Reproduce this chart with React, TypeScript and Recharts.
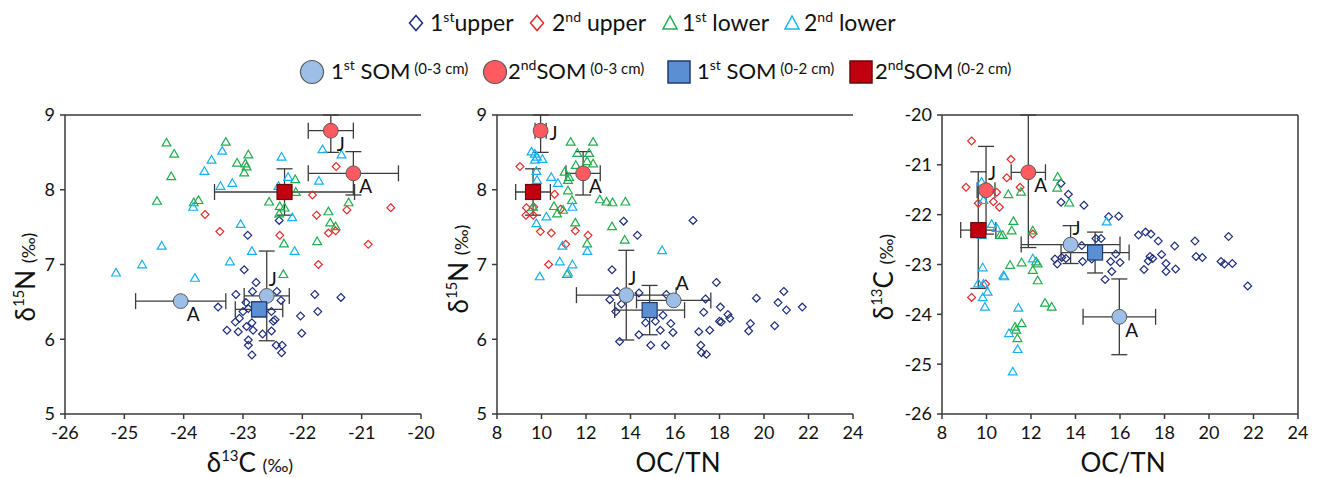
import React from 'react';
import { ScatterChart, Scatter, XAxis, YAxis, ErrorBar, ReferenceLine } from 'recharts';

type Pt = [number, number];
type Som = { lab: string; x: number; y: number; ex: number; ey: number };

// ---------- panel 1: d13C (x) vs d15N (y)
const p1Upper1: Pt[] = [
  [-22.39, 7.59], [-22.92, 7.39], [-22.98, 6.93], [-22.78, 6.76], [-22.84, 6.64], [-22.43, 6.64],
  [-22.36, 6.52], [-21.79, 6.6], [-21.35, 6.56], [-23.12, 6.6], [-23.42, 6.43], [-22.95, 6.49],
  [-22.91, 6.41], [-23.0, 6.37], [-22.52, 6.37], [-22.49, 6.24], [-22.46, 6.26], [-23.06, 6.28],
  [-23.13, 6.23], [-23.27, 6.12], [-23.08, 6.1], [-22.94, 6.17], [-22.85, 6.22], [-22.83, 6.12],
  [-22.91, 5.99], [-22.67, 6.07], [-22.52, 6.11], [-22.03, 6.31], [-21.74, 6.37], [-22.01, 6.08],
  [-22.44, 5.92], [-22.34, 5.92], [-22.91, 5.92], [-22.85, 5.79], [-22.35, 5.82],
];
const p1Upper2: Pt[] = [
  [-21.43, 8.31], [-21.83, 7.93], [-21.76, 7.66], [-21.25, 7.73], [-20.51, 7.76], [-23.64, 7.67],
  [-23.39, 7.44], [-22.38, 7.39], [-21.56, 7.42], [-21.44, 7.45], [-20.89, 7.27], [-21.73, 7.0],
];
const p1Lower1: Pt[] = [
  [-24.29, 8.63], [-23.29, 8.64], [-24.16, 8.48], [-22.91, 8.47], [-23.1, 8.36], [-22.96, 8.35],
  [-22.94, 8.31], [-22.98, 8.23], [-24.21, 8.18], [-22.12, 8.14], [-22.11, 7.97], [-24.45, 7.85],
  [-23.75, 7.86], [-23.83, 7.83], [-22.56, 7.84], [-22.38, 7.78], [-22.3, 7.76], [-22.39, 7.68],
  [-21.22, 7.83], [-21.56, 7.71], [-21.53, 7.56], [-21.44, 7.51], [-22.31, 7.28], [-21.75, 7.31],
  [-22.32, 6.87],
];
const p1Lower2: Pt[] = [
  [-25.14, 6.89], [-24.7, 7.0], [-24.37, 7.25], [-23.81, 6.82], [-23.22, 7.04], [-23.04, 7.54],
  [-22.85, 7.18], [-22.13, 7.18], [-22.17, 7.63], [-23.65, 8.25], [-23.53, 8.4], [-23.35, 8.52],
  [-23.18, 8.09], [-23.38, 8.05], [-23.84, 7.77], [-22.35, 8.44], [-22.24, 8.17], [-22.4, 8.05],
  [-21.72, 8.12], [-21.66, 8.54], [-21.34, 8.47],
];
const p1Som1: Som[] = [
  { lab: 'J', x: -22.6, y: 6.58, ex: 0.38, ey: 0.6 },
  { lab: 'A', x: -24.05, y: 6.51, ex: 0.76, ey: 0 },
];
const p1Som2: Som[] = [
  { lab: 'J', x: -21.52, y: 8.79, ex: 0.38, ey: 0.29 },
  { lab: 'A', x: -21.14, y: 8.22, ex: 0.76, ey: 0.29 },
];
const p1Som1Deep: Som[] = [{ lab: '', x: -22.73, y: 6.4, ex: 0.4, ey: 0.1 }];
const p1Som2Deep: Som[] = [{ lab: '', x: -22.3, y: 7.97, ex: 1.18, ey: 0.31 }];

// ---------- panel 2: OC/TN (x) vs d15N (y)
const p2Upper1: Pt[] = [
  [16.81, 7.59], [13.69, 7.58], [14.31, 7.39], [13.17, 6.93], [17.86, 6.76], [13.4, 6.64],
  [14.38, 6.62], [15.61, 6.6], [17.37, 6.54], [19.66, 6.55], [20.89, 6.64], [20.63, 6.49],
  [21.01, 6.39], [21.72, 6.43], [13.07, 6.53], [13.59, 6.47], [13.34, 6.37], [18.04, 6.43],
  [17.29, 6.36], [18.38, 6.33], [18.46, 6.28], [18.0, 6.24], [18.08, 6.23], [19.39, 6.21],
  [20.48, 6.18], [19.31, 6.11], [14.68, 6.22], [15.12, 6.24], [15.46, 6.32], [15.81, 6.21],
  [15.91, 6.09], [15.34, 6.12], [14.38, 6.06], [17.07, 6.1], [17.56, 6.12], [13.51, 5.97],
  [14.91, 5.92], [15.57, 5.92], [17.16, 5.92], [17.19, 5.82], [17.41, 5.8],
];
const p2Upper2: Pt[] = [
  [9.03, 8.31], [9.32, 7.76], [9.3, 7.66], [9.63, 7.66], [9.65, 7.77], [10.59, 7.94],
  [10.86, 7.74], [9.95, 7.44], [10.44, 7.42], [11.52, 7.45], [12.09, 7.39], [11.09, 7.27],
  [10.32, 7.0],
];
const p2Lower1: Pt[] = [
  [11.31, 8.64], [12.32, 8.64], [11.61, 8.49], [12.14, 8.49], [12.05, 8.38], [12.32, 8.35],
  [11.54, 8.33], [11.04, 8.24], [11.24, 8.17], [11.19, 8.13], [11.19, 7.99], [11.37, 7.86],
  [12.62, 7.87], [12.92, 7.84], [13.19, 7.83], [13.77, 7.84], [9.62, 7.77], [10.56, 7.78],
  [10.97, 7.73], [10.7, 7.68], [11.52, 7.56], [13.17, 7.51], [12.05, 7.28], [13.74, 7.33],
  [11.15, 6.87],
];
const p2Lower2: Pt[] = [
  [9.55, 8.51], [9.7, 8.48], [9.8, 8.44], [10.04, 8.41], [9.7, 8.4], [9.77, 8.25],
  [9.8, 8.13], [10.44, 8.17], [10.74, 8.09], [11.39, 7.77], [10.22, 7.64], [9.77, 7.55],
  [10.94, 7.25], [12.06, 7.18], [15.42, 7.19], [10.82, 7.04], [11.39, 7.0], [11.19, 6.89],
  [9.92, 6.84],
];
const p2Som1: Som[] = [
  { lab: 'J', x: 13.81, y: 6.59, ex: 2.24, ey: 0.6 },
  { lab: 'A', x: 15.94, y: 6.52, ex: 1.67, ey: 0 },
];
const p2Som2: Som[] = [
  { lab: 'J', x: 9.96, y: 8.79, ex: 0.25, ey: 0.29 },
  { lab: 'A', x: 11.87, y: 8.22, ex: 0.77, ey: 0.29 },
];
const p2Som1Deep: Som[] = [{ lab: '', x: 14.86, y: 6.39, ex: 1.57, ey: 0.33 }];
const p2Som2Deep: Som[] = [{ lab: '', x: 9.62, y: 7.97, ex: 0.78, ey: 0.31 }];

// ---------- panel 3: OC/TN (x) vs d13C (y)
const p3Upper1: Pt[] = [
  [13.35, -21.37], [13.68, -21.59], [13.35, -21.75], [14.38, -21.81], [15.49, -22.04], [15.94, -22.03],
  [16.83, -22.41], [17.15, -22.35], [17.39, -22.39], [17.72, -22.53], [18.46, -22.63], [19.37, -22.53],
  [20.88, -22.44], [14.92, -22.48], [15.15, -22.48], [14.28, -22.62], [13.08, -22.89], [13.18, -22.99],
  [13.38, -22.86], [13.57, -22.88], [14.32, -22.94], [14.73, -22.89], [15.81, -22.79], [15.58, -22.94],
  [16.0, -22.96], [15.63, -23.14], [15.33, -23.3], [17.35, -22.84], [17.47, -22.88], [17.27, -22.93],
  [17.87, -22.8], [17.08, -23.1], [18.07, -22.98], [18.07, -23.14], [18.5, -23.09], [19.42, -22.84],
  [19.7, -22.86], [20.54, -22.94], [20.69, -22.99], [21.05, -22.98], [21.74, -23.43],
];
const p3Upper2: Pt[] = [
  [9.33, -20.52], [11.1, -20.89], [10.91, -21.26], [9.08, -21.45], [9.63, -21.77], [10.31, -21.74],
  [10.58, -21.85], [10.46, -21.55], [11.51, -21.45], [12.08, -22.39], [9.96, -23.39], [9.33, -23.66],
];
const p3Lower1: Pt[] = [
  [13.2, -21.24], [13.18, -21.46], [13.72, -21.76], [10.98, -21.59], [11.55, -21.54], [11.21, -22.13],
  [11.13, -22.32], [10.61, -22.41], [10.73, -22.41], [12.08, -22.32], [11.06, -23.01], [11.58, -22.96],
  [12.08, -23.11], [12.3, -22.98], [12.23, -22.94], [12.3, -23.32], [12.63, -23.77], [12.93, -23.85],
  [11.58, -24.18], [11.28, -24.25], [11.33, -24.31], [11.39, -24.48],
];
const p3Lower2: Pt[] = [
  [9.78, -21.34], [9.86, -21.71], [10.23, -22.19], [10.46, -22.27], [9.78, -22.41], [15.4, -22.14],
  [12.08, -22.88], [10.76, -23.22], [10.8, -23.24], [9.83, -23.06], [9.63, -23.38], [9.86, -23.39],
  [10.05, -23.55], [9.83, -23.66], [9.93, -23.85], [11.43, -23.87], [11.01, -24.38], [11.4, -24.7],
  [11.18, -25.15],
];
const p3Som1: Som[] = [
  { lab: 'J', x: 13.78, y: -22.6, ex: 2.22, ey: 0.38 },
  { lab: 'A', x: 15.97, y: -24.05, ex: 1.63, ey: 0.76 },
];
const p3Som2: Som[] = [
  { lab: 'J', x: 9.98, y: -21.51, ex: 0.4, ey: 0.88 },
  { lab: 'A', x: 11.88, y: -21.15, ex: 0.77, ey: 1.51 },
];
const p3Som1Deep: Som[] = [{ lab: '', x: 14.88, y: -22.76, ex: 1.53, ey: 0.41 }];
const p3Som2Deep: Som[] = [{ lab: '', x: 9.63, y: -22.31, ex: 0.79, ey: 1.17 }];

const d13cTicks = [-26, -25, -24, -23, -22, -21, -20];
const d15nTicks = [5, 6, 7, 8, 9];
const ocTnTicks = [8, 10, 12, 14, 16, 18, 20, 22, 24];

// where the J / A letters sit next to each marker
const labelOffset: Record<string, [number, number]> = { br: [6, 20], ar: [2, -10], r: [9, 9] };

const C_UP1 = '#1c2c7c';
const C_UP2 = '#e42a2a';
const C_LO1 = '#1fae4e';
const C_LO2 = '#17b0f0';
const AXIS = '#3a3a3a';
const FONT = 'Lato, "Open Sans", sans-serif';

const toPts = (a: Pt[]) => a.map(([x, y]) => ({ x, y }));

// error bars stop at the frame, like the clipped ones in the original
const clipSom = (a: Som[], xd: [number, number], yd: [number, number]) =>
  a.map((s) => ({
    ...s,
    exv: [Math.min(s.ex, s.x - xd[0]), Math.min(s.ex, xd[1] - s.x)],
    eyv: [Math.min(s.ey, s.y - yd[0]), Math.min(s.ey, yd[1] - s.y)],
  }));

const diamondShape = (color: string) => (p: any) => {
  const { cx, cy } = p;
  const r = 3.9;
  return (
    <path d={`M${cx},${cy - r}L${cx + r},${cy}L${cx},${cy + r}L${cx - r},${cy}Z`} fill="none" stroke={color} strokeWidth={1.2} />
  );
};

const triangleShape = (color: string) => (p: any) => {
  const { cx, cy } = p;
  return (
    <path d={`M${cx},${cy - 4.3}L${cx + 4.4},${cy + 3.3}L${cx - 4.4},${cy + 3.3}Z`} fill="none" stroke={color} strokeWidth={1.2} />
  );
};

const somShape = (kind: 'circle' | 'square', fill: string, stroke: string, pos: Record<string, string>) => (p: any) => {
  const { cx, cy, payload } = p;
  const lab = payload?.lab;
  const off = lab ? labelOffset[pos[lab] || 'br'] : null;
  return (
    <g>
      {kind === 'circle' ? (
        <circle cx={cx} cy={cy} r={7.4} fill={fill} stroke={stroke} strokeWidth={1} />
      ) : (
        <rect x={cx - 7.5} y={cy - 7.5} width={15} height={15} fill={fill} stroke={stroke} strokeWidth={1.2} />
      )}
      {off && (
        <text x={cx + off[0]} y={cy + off[1]} fontSize={19} fill="#111" fontFamily={FONT}>
          {lab}
        </text>
      )}
    </g>
  );
};

type PanelProps = {
  left: number;
  xDomain: [number, number];
  xTicks: number[];
  yDomain: [number, number];
  yTicks: number[];
  up1: Pt[];
  up2: Pt[];
  lo1: Pt[];
  lo2: Pt[];
  som1: Som[];
  som2: Som[];
  som1Deep: Som[];
  som2Deep: Som[];
  pos1: Record<string, string>;
  pos2: Record<string, string>;
  boxed?: boolean;
};

const errBars = () => [
  <ErrorBar key="ex" dataKey="exv" direction="x" width={8} stroke="#3c3c3c" strokeWidth={1.3} isAnimationActive={false} />,
  <ErrorBar key="ey" dataKey="eyv" direction="y" width={8} stroke="#3c3c3c" strokeWidth={1.3} isAnimationActive={false} />,
];

function Panel(props: PanelProps) {
  const { left, xDomain, xTicks, yDomain, yTicks, boxed } = props;
  const tick = { fontSize: 18, fill: '#111', fontFamily: FONT };
  const clip = (a: Som[]) => clipSom(a, xDomain, yDomain);
  return (
    <div style={{ position: 'absolute', left, top: 0 }}>
      <ScatterChart width={440} height={478} margin={{ top: 115, right: 19, bottom: 34, left: 0 }}>
        <XAxis
          type="number"
          dataKey="x"
          domain={xDomain}
          ticks={xTicks}
          allowDataOverflow
          height={30}
          tick={tick}
          tickSize={5}
          tickMargin={7}
          axisLine={{ stroke: AXIS, strokeWidth: 1.5 }}
          tickLine={{ stroke: AXIS, strokeWidth: 1.5 }}
        />
        <YAxis
          type="number"
          dataKey="y"
          domain={yDomain}
          ticks={yTicks}
          allowDataOverflow
          width={65}
          tick={tick}
          tickSize={5}
          tickMargin={5}
          axisLine={{ stroke: AXIS, strokeWidth: 1.5 }}
          tickLine={{ stroke: AXIS, strokeWidth: 1.5 }}
        />
        <ReferenceLine y={yDomain[1]} stroke={AXIS} strokeWidth={1.5} />
        {boxed && <ReferenceLine x={xDomain[1]} stroke={AXIS} strokeWidth={1.5} />}
        <Scatter data={toPts(props.up1)} shape={diamondShape(C_UP1)} isAnimationActive={false} />
        <Scatter data={toPts(props.up2)} shape={diamondShape(C_UP2)} isAnimationActive={false} />
        <Scatter data={toPts(props.lo1)} shape={triangleShape(C_LO1)} isAnimationActive={false} />
        <Scatter data={toPts(props.lo2)} shape={triangleShape(C_LO2)} isAnimationActive={false} />
        <Scatter data={clip(props.som2)} shape={somShape('circle', '#ff5a60', '#5a5a5a', props.pos2)} isAnimationActive={false}>
          {errBars()}
        </Scatter>
        <Scatter data={clip(props.som2Deep)} shape={somShape('square', '#c0000f', '#6a0a0a', {})} isAnimationActive={false}>
          {errBars()}
        </Scatter>
        <Scatter data={clip(props.som1)} shape={somShape('circle', '#9dbee6', '#5a5a5a', props.pos1)} isAnimationActive={false}>
          {errBars()}
        </Scatter>
        <Scatter data={clip(props.som1Deep)} shape={somShape('square', '#5b8fd3', '#1f3a70', {})} isAnimationActive={false}>
          {errBars()}
        </Scatter>
      </ScatterChart>
    </div>
  );
}

const sup = (t: string, size: number, raise: number) => (
  <span style={{ fontSize: size, position: 'relative', top: -raise }}>{t}</span>
);

function XTitle({ cx, children }: { cx: number; children: React.ReactNode }) {
  return (
    <div style={{ position: 'absolute', left: cx, top: 451, transform: 'translateX(-50%)', fontSize: 26, lineHeight: '22px', whiteSpace: 'nowrap', color: '#111' }}>
      {children}
    </div>
  );
}

function YTitle({ cx, cy, children }: { cx: number; cy: number; children: React.ReactNode }) {
  return (
    <div style={{ position: 'absolute', left: cx, top: cy, transform: 'translate(-50%,-50%) rotate(-90deg)', fontSize: 26, lineHeight: '28px', whiteSpace: 'nowrap', color: '#111' }}>
      {children}
    </div>
  );
}

function Icon({ cx, cy, children }: { cx: number; cy: number; children: React.ReactNode }) {
  return (
    <svg style={{ position: 'absolute', left: cx - 15, top: cy - 15 }} width={30} height={30}>
      <g transform="translate(15,15)">{children}</g>
    </svg>
  );
}

function LegText({ x, base, size, children }: { x: number; base: number; size: number; children: React.ReactNode }) {
  return (
    <div style={{ position: 'absolute', left: x, top: base - 0.887 * size, fontSize: size, lineHeight: `${size}px`, whiteSpace: 'nowrap', color: '#111' }}>
      {children}
    </div>
  );
}

function Legend() {
  const dia = (c: string) => <path d="M0,-7.5L6.5,0L0,7.5L-6.5,0Z" fill="none" stroke={c} strokeWidth={1.5} />;
  const tri = (c: string) => <path d="M0,-7L7,6L-7,6Z" fill="none" stroke={c} strokeWidth={1.5} />;
  const cm = (t: string) => <span style={{ fontSize: 15, position: 'relative', top: -5 }}> {t}</span>;
  return (
    <>
      <Icon cx={416} cy={23}>{dia(C_UP1)}</Icon>
      <LegText x={430} base={31} size={23}>1{sup('st', 14, 9)}upper</LegText>
      <Icon cx={537} cy={23}>{dia(C_UP2)}</Icon>
      <LegText x={552} base={31} size={23}>2{sup('nd', 14, 9)} upper</LegText>
      <Icon cx={670} cy={23}>{tri(C_LO1)}</Icon>
      <LegText x={682} base={31} size={23}>1{sup('st', 14, 9)} lower</LegText>
      <Icon cx={792} cy={23}>{tri(C_LO2)}</Icon>
      <LegText x={804} base={31} size={23}>2{sup('nd', 14, 9)} lower</LegText>

      <Icon cx={312} cy={72}><circle r={11.5} fill="#9dbee6" stroke="#5a5a5a" strokeWidth={1.2} /></Icon>
      <LegText x={331} base={80} size={22}>1{sup('st', 14, 9)} SOM{cm('(0-3 cm)')}</LegText>
      <Icon cx={495} cy={72}><circle r={11.5} fill="#ff5a60" stroke="#5a5a5a" strokeWidth={1.2} /></Icon>
      <LegText x={508} base={80} size={22}>2{sup('nd', 14, 9)}SOM{cm('(0-3 cm)')}</LegText>
      <Icon cx={679} cy={72}><rect x={-11} y={-11} width={22} height={22} fill="#5b8fd3" stroke="#1f3a70" strokeWidth={1.5} /></Icon>
      <LegText x={697} base={80} size={22}>1{sup('st', 14, 9)} SOM{cm('(0-2 cm)')}</LegText>
      <Icon cx={861} cy={72}><rect x={-11} y={-11} width={22} height={22} fill="#c0000f" stroke="#6a0a0a" strokeWidth={1.5} /></Icon>
      <LegText x={875} base={80} size={22}>2{sup('nd', 14, 9)}SOM{cm('(0-2 cm)')}</LegText>
    </>
  );
}

export default function App() {
  return (
    <div style={{ position: 'absolute', left: 0, top: 0, width: 1320, height: 478, background: '#fff', fontFamily: FONT, overflow: 'hidden' }}>
      <Legend />
      <Panel
        left={0}
        xDomain={[-26, -20]}
        xTicks={d13cTicks}
        yDomain={[5, 9]}
        yTicks={d15nTicks}
        up1={p1Upper1}
        up2={p1Upper2}
        lo1={p1Lower1}
        lo2={p1Lower2}
        som1={p1Som1}
        som2={p1Som2}
        som1Deep={p1Som1Deep}
        som2Deep={p1Som2Deep}
        pos1={{ J: 'ar', A: 'br' }}
        pos2={{ J: 'br', A: 'br' }}
      />
      <Panel
        left={432}
        xDomain={[8, 24]}
        xTicks={ocTnTicks}
        yDomain={[5, 9]}
        yTicks={d15nTicks}
        up1={p2Upper1}
        up2={p2Upper2}
        lo1={p2Lower1}
        lo2={p2Lower2}
        som1={p2Som1}
        som2={p2Som2}
        som1Deep={p2Som1Deep}
        som2Deep={p2Som2Deep}
        pos1={{ J: 'ar', A: 'ar' }}
        pos2={{ J: 'r', A: 'br' }}
      />
      <Panel
        left={877}
        xDomain={[8, 24]}
        xTicks={ocTnTicks}
        yDomain={[-26, -20]}
        yTicks={d13cTicks}
        up1={p3Upper1}
        up2={p3Upper2}
        lo1={p3Lower1}
        lo2={p3Lower2}
        som1={p3Som1}
        som2={p3Som2}
        som1Deep={p3Som1Deep}
        som2Deep={p3Som2Deep}
        pos1={{ J: 'ar', A: 'br' }}
        pos2={{ J: 'ar', A: 'br' }}
        boxed
      />
      <XTitle cx={250}>δ{sup('13', 15, 11)}C <span style={{ fontSize: 18 }}>(‰)</span></XTitle>
      <XTitle cx={678}>OC/TN</XTitle>
      <XTitle cx={1123}>OC/TN</XTitle>
      <YTitle cx={27} cy={277}>δ{sup('15', 15, 11)}N <span style={{ fontSize: 18 }}>(‰)</span></YTitle>
      <YTitle cx={460} cy={269}>δ{sup('15', 15, 11)}N <span style={{ fontSize: 18 }}>(‰)</span></YTitle>
      <YTitle cx={885} cy={277}>δ{sup('13', 15, 11)}C <span style={{ fontSize: 18 }}>(‰)</span></YTitle>
    </div>
  );
}
